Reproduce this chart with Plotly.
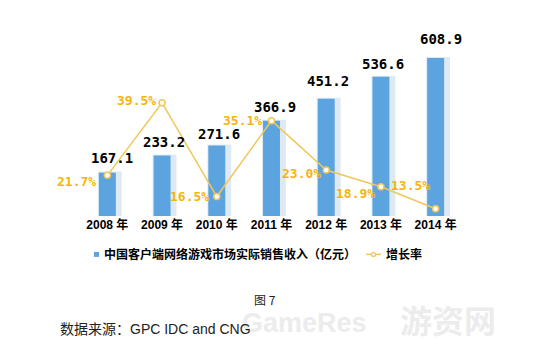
import plotly.graph_objects as go

years = ["2008 年", "2009 年", "2010 年", "2011 年", "2012 年", "2013 年", "2014 年"]
revenue = [167.1, 233.2, 271.6, 366.9, 451.2, 536.6, 608.9]
growth = [21.7, 39.5, 16.5, 35.1, 23.0, 18.9, 13.5]
bar_name = "中国客户端网络游戏市场实际销售收入（亿元）"
line_name = "增长率"

# label offsets (px)
val_dx = [5, 2, 2, 3, 2, 2, 5]
val_dy = [15, 13, 11, 14, 18, 13, 19]
pct_dx = [-31, -26, -27, -29, -25, -25, -25]
pct_dy = [-6, 2, 0, 0, -3, -7, 23]

BLUE = "#5ca4e0"
PALE = "#dfe9f3"
GOLD = "#f5b50a"
LINE = "#efc75a"
CJK = "Liberation Sans, Noto Sans CJK SC, sans-serif"
MONO = "DejaVu Sans Mono, monospace"

OFF = 8  # page body margin
W, H = 548, 358
L, T = 80 - OFF, 30 - OFF
R, B = W - 463 + OFF, H - 216.5 + OFF
PW, PH = W - L - R, H - T - B


def px(x):  # page pixel -> paper
    return (x - OFF - L) / PW


def py(y):
    return (T + OFF + PH - y) / PH


fig = go.Figure()
fig.add_trace(go.Bar(x=years, y=revenue, width=0.40, offset=-0.155,
                     marker=dict(color=PALE, line=dict(color=PALE, width=2)),
                     showlegend=False, hoverinfo="skip"))
fig.add_trace(go.Bar(x=years, y=revenue, width=0.31, offset=-0.155,
                     marker=dict(color=BLUE, line=dict(width=0)),
                     name=bar_name, showlegend=False))
fig.add_trace(go.Scatter(x=years, y=growth, yaxis="y2", mode="lines+markers",
                         line=dict(color=LINE, width=1.5),
                         marker=dict(size=6, color="white", line=dict(color=LINE, width=1.5)),
                         name=line_name, showlegend=False))

ann = []
for x, v, dx, dy in zip(years, revenue, val_dx, val_dy):
    ann.append(dict(x=x, y=v, xref="x", yref="y", text=f"{v:.1f}", showarrow=False,
                    xshift=dx, yshift=dy, yanchor="middle",
                    font=dict(family=MONO, size=14, color="black", weight="bold")))
for x, g, dx, dy in zip(years, growth, pct_dx, pct_dy):
    ann.append(dict(x=x, y=g, xref="x", yref="y2", text=f"{g:.1f}%", showarrow=False,
                    xshift=dx, yshift=dy, yanchor="middle",
                    font=dict(family=MONO, size=13, color=GOLD, weight="bold")))

# manual legend
lg_font = dict(family=CJK, size=12, color="black", weight="bold")
ann.append(dict(x=px(102), y=py(255), xref="paper", yref="paper", text=bar_name, showarrow=False,
                xanchor="left", yanchor="middle", font=lg_font))
ann.append(dict(x=px(384), y=py(255), xref="paper", yref="paper", text=line_name, showarrow=False,
                xanchor="left", yanchor="middle", font=lg_font))
shapes = [
    dict(type="rect", xref="paper", yref="paper", x0=px(94), x1=px(99), y0=py(257.5), y1=py(252.5),
         fillcolor=BLUE, line=dict(width=0)),
    dict(type="line", xref="paper", yref="paper", x0=px(366), x1=px(381), y0=py(255), y1=py(255),
         line=dict(color=LINE, width=1.5)),
    dict(type="circle", xref="paper", yref="paper", x0=px(371.5), x1=px(375.5), y0=py(257), y1=py(253),
         fillcolor="white", line=dict(color=LINE, width=1.2)),
]

# watermark
ann.append(dict(x=px(240), y=py(324), xref="paper", yref="paper", text="GameRes", showarrow=False,
                xanchor="left", yanchor="middle",
                font=dict(family="Liberation Sans", size=27, color="#ececec", weight="bold")))
ann.append(dict(x=px(398), y=py(320), xref="paper", yref="paper", text="游资网", showarrow=False,
                xanchor="left", yanchor="middle",
                font=dict(family="Noto Sans CJK SC", size=32, color="#ececec", weight="bold")))

ann.append(dict(x=px(265), y=py(300), xref="paper", yref="paper", text="图 7", showarrow=False,
                xanchor="center", yanchor="middle",
                font=dict(family="Noto Sans CJK SC", size=12, color="#222")))
ann.append(dict(x=px(58), y=py(330), xref="paper", yref="paper", text="数据来源：GPC IDC and CNG",
                showarrow=False, xanchor="left", yanchor="middle",
                font=dict(family="Liberation Sans, Noto Sans CJK SC", size=14, color="#222")))

fig.update_layout(
    width=W, height=H,
    margin=dict(l=L, r=R, t=T, b=B, autoexpand=False),
    paper_bgcolor="white", plot_bgcolor="white",
    barmode="overlay",
    xaxis=dict(range=[-0.5, 6.5], showgrid=False, showline=False, zeroline=False, ticks="",
               automargin=False, tickfont=dict(family=CJK, size=12, color="black", weight="bold")),
    yaxis=dict(range=[0, 716.5], visible=False),
    yaxis2=dict(range=[11.73, 57.36], overlaying="y", visible=False),
    annotations=ann,
    shapes=shapes,
    showlegend=False,
)

fig.write_html("out.html")
